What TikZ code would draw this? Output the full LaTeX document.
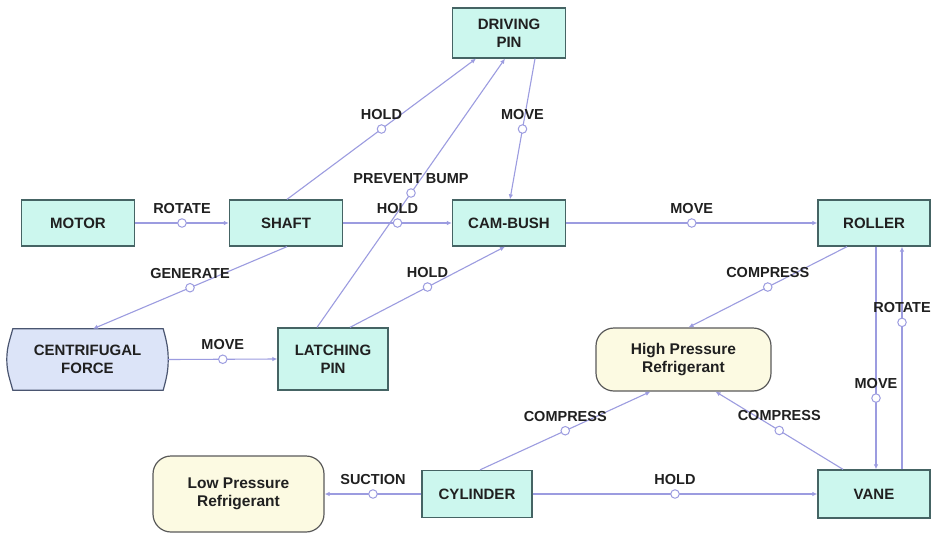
\documentclass[tikz,border=0pt]{standalone}
\usepackage{fontspec}
\setmainfont{Liberation Sans}
\usetikzlibrary{arrows.meta,backgrounds}
\definecolor{boxfill}{HTML}{CCF7EE}
\definecolor{boxborder}{HTML}{456464}
\definecolor{cffill}{HTML}{DCE4F8}
\definecolor{cfborder}{HTML}{4A5570}
\definecolor{yfill}{HTML}{FCFAE2}
\definecolor{yborder}{HTML}{5A5A5A}
\definecolor{conn}{HTML}{9C9CE0}
\definecolor{txt}{HTML}{202020}
\tikzset{
  box/.style={draw=boxborder, fill=boxfill, line width=1.3pt, align=center, inner sep=0pt,
    text=txt, font=\fontsize{15}{18}\selectfont\bfseries},
  refr/.style={draw=yborder, fill=yfill, line width=1.2pt, rounded corners=18pt, align=center,
    inner sep=0pt, text=txt, font=\fontsize{15.5}{18}\selectfont\bfseries},
  cfnode/.style={inner sep=0pt, align=center, text=txt, font=\fontsize{15}{18}\selectfont\bfseries},
  link/.style={draw=conn, line width=1.1pt, -{Latex[length=5pt,width=4.5pt]}},
  dot/.style={circle, draw=conn, fill=white, line width=1pt, minimum size=8.5pt, inner sep=0pt},
  lbl/.style={text=txt, font=\fontsize{14.5}{17}\selectfont\bfseries, inner sep=0pt, yshift=14.5pt},
}
\begin{document}
\begin{tikzpicture}[x=1pt,y=-1pt]
\useasboundingbox (0,0) rectangle (932,536);
% nodes
\node[box, minimum width=113pt, minimum height=50pt] (drv) at (509,33) {DRIVING\\PIN};
\node[box, minimum width=113pt, minimum height=46pt] (motor) at (78,223) {MOTOR};
\node[box, minimum width=113pt, minimum height=46pt] (shaft) at (286,223) {SHAFT};
\node[box, minimum width=113pt, minimum height=46pt] (cam) at (509,223) {CAM-BUSH};
\node[box, minimum width=112pt, minimum height=46pt] (roller) at (874,223) {ROLLER};
\node[cfnode, minimum width=161pt, minimum height=61pt] (cf) at (87.5,359.5) {CENTRIFUGAL\\FORCE};
\begin{scope}[on background layer]
\fill[white] (0,0) rectangle (932,536);
\draw[draw=cfborder, fill=cffill, line width=1.2pt]
  ([xshift=6pt]cf.north west) -- ([xshift=-5pt]cf.north east)
  to[out=-75,in=90] (cf.east) to[out=-90,in=75] ([xshift=-5pt]cf.south east)
  -- ([xshift=6pt]cf.south west)
  to[out=105,in=-90] (cf.west) to[out=90,in=-105] cycle;
\end{scope}
\node[box, minimum width=110pt, minimum height=62pt] (latch) at (333,359) {LATCHING\\PIN};
\node[refr, minimum width=175pt, minimum height=63pt] (hp) at (683.5,359.5) {High Pressure\\Refrigerant};
\node[refr, minimum width=171pt, minimum height=76pt] (lp) at (238.5,494) {Low Pressure\\Refrigerant};
\node[box, minimum width=110pt, minimum height=47pt] (cyl) at (477,494) {CYLINDER};
\node[box, minimum width=112pt, minimum height=48pt] (vane) at (874,494) {VANE};
% connectors
\draw[link] (motor.east) -- (shaft.west)
  node[dot,pos=.5]{} node[lbl,pos=.5]{ROTATE};
\draw[link] ([xshift=1pt]shaft.north) -- ([xshift=-33pt]drv.south)
  node[dot,pos=.5]{} node[lbl,pos=.5]{HOLD};
\draw[link] ([xshift=-16pt]latch.north) -- ([xshift=-4pt]drv.south)
  node[dot,pos=.5]{} node[lbl,pos=.5]{PREVENT BUMP};
\draw[link] ([xshift=26pt]drv.south) -- ([xshift=1pt]cam.north)
  node[dot,pos=.5]{} node[lbl,pos=.5]{MOVE};
\draw[link] (shaft.east) -- (cam.west)
  node[dot,pos=.5]{} node[lbl,pos=.5]{HOLD};
\draw[link] (cam.east) -- (roller.west)
  node[dot,pos=.5]{} node[lbl,pos=.5]{MOVE};
\draw[link] ([xshift=1pt]shaft.south) -- ([xshift=5.5pt]cf.north)
  node[dot,pos=.5]{} node[lbl,pos=.5]{GENERATE};
\draw[link] ([xshift=17pt]latch.north) -- ([xshift=-4pt]cam.south)
  node[dot,pos=.5]{} node[lbl,pos=.5]{HOLD};
\draw[link] (cf.east) -- (latch.west)
  node[dot,pos=.5]{} node[lbl,pos=.5]{MOVE};
\draw[link] ([xshift=-27pt]roller.south) -- ([xshift=5pt]hp.north)
  node[dot,pos=.5]{} node[lbl,pos=.5]{COMPRESS};
\draw[link] ([xshift=2pt]roller.south) -- ([xshift=2pt]vane.north)
  node[dot,pos=.68]{} node[lbl,pos=.68]{MOVE};
\draw[link] ([xshift=28pt]vane.north) -- ([xshift=28pt]roller.south)
  node[dot,pos=.66]{} node[lbl,pos=.66]{ROTATE};
\draw[link] ([xshift=3pt]cyl.north) -- ([xshift=-33pt]hp.south)
  node[dot,pos=.5]{} node[lbl,pos=.5]{COMPRESS};
\draw[link] ([xshift=-31pt]vane.north) -- ([xshift=32pt]hp.south)
  node[dot,pos=.5]{} node[lbl,pos=.5]{COMPRESS};
\draw[link] (cyl.east) -- (vane.west)
  node[dot,pos=.5]{} node[lbl,pos=.5]{HOLD};
\draw[link] (cyl.west) -- (lp.east)
  node[dot,pos=.5]{} node[lbl,pos=.5]{SUCTION};
\end{tikzpicture}
\end{document}
